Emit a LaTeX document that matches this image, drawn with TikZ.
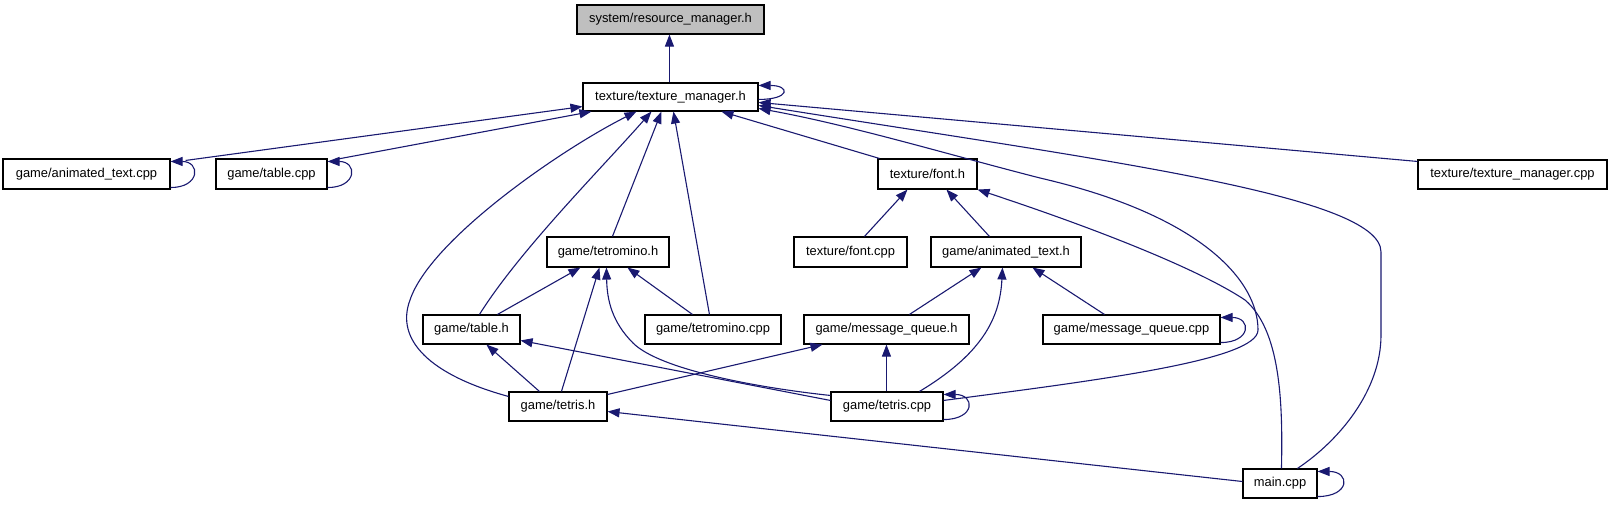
\documentclass[tikz,border=0pt]{standalone}
\usepackage{fontspec}
\setmainfont{Liberation Sans}
\usetikzlibrary{arrows.meta,calc}
\definecolor{edgeblue}{HTML}{191970}
\definecolor{boxgray}{HTML}{BFBFBF}
\tikzset{
  box/.style={draw=black, line width=1.1pt, fill=white, inner sep=0pt,
    font=\fontsize{12.9}{15}\selectfont, text=black},
  edge/.style={draw=edgeblue, line width=1.1pt, -{Triangle[length=12pt,width=9pt]}},
}
\newcommand{\bx}[7][]{\node[box,#1, minimum width={#5-#3}, minimum height={#6-#4}] (#2) at ({(#3+#5)/2},{(#4+#6)/2}) {#7};}
\begin{document}
\begin{tikzpicture}[x=1pt,y=-1pt]
\useasboundingbox (0,0) rectangle (1611,504);
\bx[fill=boxgray]{rm}{577}{5}{764}{34}{system/resource\_manager.h}
\bx{tmh}{583}{83}{758}{111}{texture/texture\_manager.h}
\bx{atc}{3}{159}{170}{189}{game/animated\_text.cpp}
\bx{tbc}{216}{159}{327}{189}{game/table.cpp}
\bx{fh}{878}{159}{977}{189}{texture/font.h}
\bx{tmc}{1418}{160}{1607}{189}{texture/texture\_manager.cpp}
\bx{tth}{547}{237}{669}{267}{game/tetromino.h}
\bx{fc}{794}{237}{907}{267}{texture/font.cpp}
\bx{ath}{931}{237}{1081}{267}{game/animated\_text.h}
\bx{tbh}{423}{315}{520}{344}{game/table.h}
\bx{ttc}{645}{315}{781}{344}{game/tetromino.cpp}
\bx{mqh}{804}{315}{969}{344}{game/message\_queue.h}
\bx{mqc}{1043}{315}{1220}{344}{game/message\_queue.cpp}
\bx{tsh}{509}{392}{607}{421}{game/tetris.h}
\bx{tsc}{831}{392}{943}{421}{game/tetris.cpp}
\bx{mc}{1243}{469}{1317}{498}{main.cpp}

% texture_manager.h -> resource_manager.h
\draw[edge] ($(tmh.north west)+(87,0)$) -- ($(rm.south west)+(93,0)$);
% self loops
\draw[edge] ($(tmh.north east)+(0,17)$) .. controls +(32,0) and +(32,0) .. ($(tmh.north east)+(0,3)$);
\draw[edge] ($(atc.south east)+(0,-2)$) .. controls +(30,0) and +(30,0) .. ($(atc.north east)+(0,3)$);
\draw[edge] ($(tbc.south east)+(0,-2)$) .. controls +(30,0) and +(30,0) .. ($(tbc.north east)+(0,3)$);
\draw[edge] ($(mqc.south east)+(0,-2)$) .. controls +(31,0) and +(31,0) .. ($(mqc.north east)+(0,3)$);
\draw[edge] ($(tsc.south east)+(0,-2)$) .. controls +(32,0) and +(32,0) .. ($(tsc.north east)+(0,3)$);
\draw[edge] ($(mc.south east)+(0,-2)$) .. controls +(33,0) and +(33,0) .. ($(mc.north east)+(0,3)$);

% into texture_manager.h
\draw[edge] ($(atc.north east)+(15,2)$) -- ($(tmh.south west)+(0,-5)$);
\draw[edge] ($(tbc.north east)+(8,1)$) -- ($(tmh.south west)+(9,0)$);
\draw[edge] ($(tsh.north west)+(0,5)$) .. controls (430,375) and (395,340) .. (410,300)
  .. controls (430,240) and (560,150) .. ($(tmh.south west)+(54,0)$);
\draw[edge] ($(tbh.north west)+(57,0)$) .. controls (520,250) and (600,170) .. ($(tmh.south west)+(69,0)$);
\draw[edge] ($(tth.north west)+(66,0)$) -- ($(tmh.south west)+(79,0)$);
\draw[edge] ($(ttc.north west)+(65,0)$) -- ($(tmh.south west)+(91,0)$);
\draw[edge] ($(fh.north west)+(2,0)$) -- ($(tmh.south west)+(139,0)$);
\draw[edge] ($(tmc.north west)+(0,2)$) -- ($(tmh.north east)+(0,20)$);
\draw[edge] ($(mc.north west)+(55,0)$) .. controls (1340,440) and (1381,390) .. (1381,335)
  -- (1381,252) .. controls (1381,195) and (1100,160) .. ($(tmh.north east)+(0,23)$);
\draw[edge] ($(tsc.north east)+(0,9)$) .. controls (1100,380) and (1258,360) .. (1258,330)
  .. controls (1258,280) and (1200,215) .. (1040,178)
  .. controls (950,155) and (850,125) .. ($(tmh.north east)+(0,26)$);

% into tetromino.h
\draw[edge] ($(tbh.north west)+(75,0)$) -- ($(tth.south west)+(34,0)$);
\draw[edge] ($(tsh.north west)+(53,0)$) -- ($(tth.south west)+(53,0)$);
\draw[edge] ($(ttc.north west)+(48,0)$) -- ($(tth.south west)+(81,0)$);
\draw[edge] ($(tsc.north west)+(0,4)$) .. controls (760,388) and (660,370) .. (633,343)
  .. controls (612,322) and (607,300) .. ($(tth.south west)+(60,0)$);

% into table.h
\draw[edge] ($(tsc.north west)+(0,9)$) -- ($(tbh.north east)+(0,26)$);
\draw[edge] ($(tsh.north west)+(31,0)$) -- ($(tbh.south west)+(64,0)$);

% into message_queue.h
\draw[edge] ($(tsh.north east)+(0,3)$) -- ($(mqh.south west)+(19,0)$);
\draw[edge] ($(tsc.north west)+(56,0)$) -- ($(mqh.south west)+(83,0)$);

% into animated_text.h
\draw[edge] ($(mqh.north west)+(106,0)$) -- ($(ath.south west)+(51,0)$);
\draw[edge] ($(tsc.north west)+(89,0)$) .. controls (980,355) and (1000,320) .. ($(ath.south west)+(72,0)$);
\draw[edge] ($(mqc.north west)+(62,0)$) -- ($(ath.south west)+(102,0)$);

% into font.h
\draw[edge] ($(fc.north west)+(71,0)$) -- ($(fh.south west)+(30,0)$);
\draw[edge] ($(ath.north west)+(59,0)$) -- ($(fh.south west)+(69,0)$);
\draw[edge] ($(mc.north west)+(39,0)$) .. controls (1283,400) and (1280,330) .. (1245,300)
  .. controls (1200,270) and (1100,230) .. (fh.south east);

% into tetris.h
\draw[edge] ($(mc.west)+(0,-2)$) -- ($(tsh.east)+(0,5)$);
\end{tikzpicture}
\end{document}
